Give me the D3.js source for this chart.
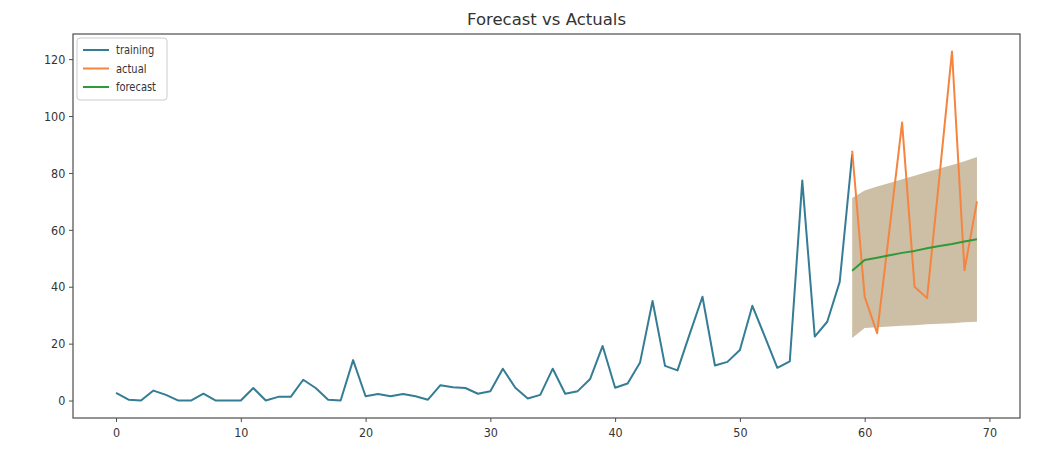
<!DOCTYPE html>
<html>
<head>
<meta charset="utf-8">
<script src="https://cdn.jsdelivr.net/npm/d3@7"></script>
<style>
  html, body { margin: 0; padding: 0; background: #ffffff; }
  svg { display: block; }
  text { font-family: "DejaVu Sans", sans-serif; fill: #333; }
</style>
</head>
<body>
<svg id="chart" width="1038" height="463"></svg>
<script>
// Training history (t = 0..59)
const trainingValues = [
  2.7, 0.3, 0, 3.5, 2, 0, 0, 2.4, 0, 0,
  0, 4.4, 0, 1.3, 1.3, 7.3, 4.4, 0.3, 0, 14.2,
  1.5, 2.3, 1.5, 2.3, 1.5, 0.3, 5.4, 4.7, 4.4, 2.4,
  3.3, 11.2, 4.5, 0.7, 2, 11.2, 2.4, 3.3, 7.6, 19.2,
  4.5, 6, 13.4, 35, 12.2, 10.6, 23.7, 36.5, 12.3, 13.6,
  17.8, 33.3, 22.5, 11.5, 13.8, 77.3, 22.5, 27.7, 41.7, 86.5
];
const trainingStart = 0;

// Hold-out period (t = 59..69)
const testStart = 59;
const actualValues   = [87.8, 36.5, 23.7, 60.5, 97.7, 40, 36, 79, 122.7, 45.8, 70];
const forecastValues = [45.6, 49.4, 50.2, 51.1, 51.9, 52.6, 53.5, 54.3, 55.0, 55.9, 56.7];
const upperValues    = [71.2, 73.8, 75.2, 76.5, 77.8, 79.0, 80.3, 81.6, 82.8, 84.1, 85.6];
const lowerValues    = [22.0, 25.5, 25.8, 26.0, 26.3, 26.5, 26.8, 27.0, 27.2, 27.5, 27.7];

const xTickValues = [0, 10, 20, 30, 40, 50, 60, 70];
const yTickValues = [0, 20, 40, 60, 80, 100, 120];
const seriesNames = ["training", "actual", "forecast"];

const colors = {
  training: "#347d94",
  actual: "#f5843f",
  forecast: "#2f9a38",
  band: "#cdbfa5",
  frame: "#4d4d4d"
};

const training = trainingValues.map((v, i) => ({ x: trainingStart + i, y: v }));
const actual = actualValues.map((v, i) => ({ x: testStart + i, y: v }));
const forecast = forecastValues.map((v, i) => ({ x: testStart + i, y: v }));
const band = upperValues.map((v, i) => ({ x: testStart + i, hi: v, lo: lowerValues[i] }));

const svg = d3.select("#chart");
const plot = { left: 73, right: 1020, top: 34, bottom: 418 };

// Matplotlib-style 5% padding around the data extents
const allX = training.concat(actual).map(d => d.x);
const allY = trainingValues.concat(actualValues, forecastValues, upperValues, lowerValues);
const [x0, x1] = d3.extent(allX);
const [y0, y1] = d3.extent(allY);
const px = (x1 - x0) * 0.05, py = (y1 - y0) * 0.05;

const x = d3.scaleLinear().domain([x0 - px, x1 + px]).range([plot.left, plot.right]);
const y = d3.scaleLinear().domain([y0 - py, y1 + py]).range([plot.bottom, plot.top]);

const squeeze = "scale(0.86,1)";

// Confidence band
svg.append("path")
  .datum(band)
  .attr("fill", colors.band)
  .attr("d", d3.area().x(d => x(d.x)).y0(d => y(d.lo)).y1(d => y(d.hi)));

const line = d3.line().x(d => x(d.x)).y(d => y(d.y));

svg.append("path").datum(training)
  .attr("fill", "none").attr("stroke", colors.training)
  .attr("stroke-width", 2).attr("stroke-linejoin", "round").attr("d", line);

svg.append("path").datum(actual)
  .attr("fill", "none").attr("stroke", colors.actual)
  .attr("stroke-width", 2).attr("stroke-linejoin", "round").attr("d", line);

svg.append("path").datum(forecast)
  .attr("fill", "none").attr("stroke", colors.forecast)
  .attr("stroke-width", 2).attr("stroke-linejoin", "round").attr("d", line);

// Axes frame
svg.append("rect")
  .attr("x", plot.left).attr("y", plot.top)
  .attr("width", plot.right - plot.left).attr("height", plot.bottom - plot.top)
  .attr("fill", "none").attr("stroke", colors.frame).attr("stroke-width", 1.2);

const xAxis = svg.append("g")
  .attr("transform", `translate(0,${plot.bottom})`)
  .call(d3.axisBottom(x).tickValues(xTickValues).tickSize(4).tickPadding(6).tickFormat(d3.format("d")));
xAxis.select(".domain").remove();
xAxis.selectAll(".tick line").attr("stroke", colors.frame);
xAxis.selectAll(".tick text")
  .attr("font-size", 13).attr("fill", "#333").attr("transform", squeeze)
  .style("font-family", "DejaVu Sans, sans-serif");

const yAxis = svg.append("g")
  .attr("transform", `translate(${plot.left},0)`)
  .call(d3.axisLeft(y).tickValues(yTickValues).tickSize(4).tickPadding(5).tickFormat(d3.format("d")));
yAxis.select(".domain").remove();
yAxis.selectAll(".tick line").attr("stroke", colors.frame);
yAxis.selectAll(".tick text")
  .attr("font-size", 13).attr("fill", "#333").attr("transform", squeeze)
  .style("font-family", "DejaVu Sans, sans-serif");

// Title
svg.append("text")
  .attr("x", (plot.left + plot.right) / 2).attr("y", 25)
  .attr("text-anchor", "middle")
  .attr("font-size", 16.5)
  .attr("fill", "#222")
  .text("Forecast vs Actuals");

// Legend
const legend = svg.append("g").attr("transform", `translate(${plot.left + 4},${plot.top + 4})`);
legend.append("rect")
  .attr("width", 90).attr("height", 62).attr("rx", 3)
  .attr("fill", "#fff").attr("fill-opacity", 0.85)
  .attr("stroke", "#cccccc");
seriesNames.forEach((name, i) => {
  const row = legend.append("g").attr("transform", `translate(6,${12 + i * 18.5})`);
  row.append("line").attr("x1", 0).attr("x2", 26).attr("y1", 0).attr("y2", 0)
    .attr("stroke", colors[name]).attr("stroke-width", 2);
  row.append("text")
    .attr("transform", "translate(33,4) scale(0.86,1)")
    .attr("font-size", 11.5).attr("fill", "#222")
    .text(name);
});
</script>
</body>
</html>
